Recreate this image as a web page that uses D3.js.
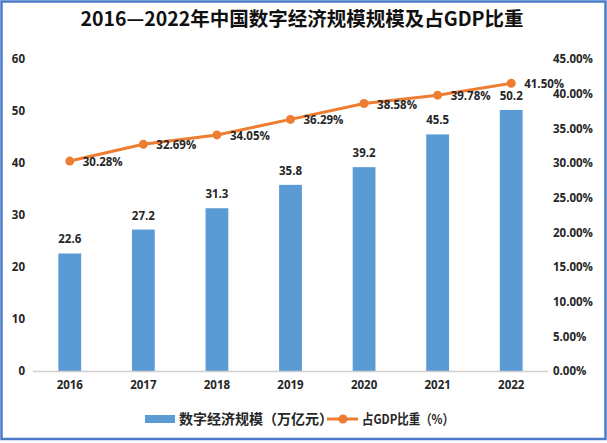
<!DOCTYPE html>
<html><head><meta charset="utf-8">
<script src="https://cdn.jsdelivr.net/npm/d3@7"></script>
<style>
body{margin:0;background:#fff;}
svg{display:block;font-family:"Noto Sans CJK SC","Open Sans",sans-serif;}
</style></head>
<body>
<svg id="chart" width="607" height="443"></svg>
<script>
const years = ["2016","2017","2018","2019","2020","2021","2022"];
const scale = [22.6, 27.2, 31.3, 35.8, 39.2, 45.5, 50.2];
const share = [30.28, 32.69, 34.05, 36.29, 38.58, 39.78, 41.50];
const leftTicks = [0,10,20,30,40,50,60];
const rightTicks = [0,5,10,15,20,25,30,35,40,45];
const title = "2016—2022年中国数字经济规模规模及占GDP比重";
const legendLabels = ["数字经济规模（万亿元）","占GDP比重（%）"];

const svg = d3.select("#chart");
const W = 607, H = 443;
const barColor = "#5B9BD5", lineColor = "#ED7D31", textColor = "#262626";

svg.append("rect").attr("x",1.5).attr("y",1.5).attr("width",W-3).attr("height",437.5)
  .attr("fill","#fff").attr("stroke","#4A7BC8").attr("stroke-width",2.5);

svg.append("text").attr("x",302).attr("y",26).attr("text-anchor","middle")
  .attr("font-size",19.5).attr("font-weight","bold").attr("fill","#111").text(title);

const x = d3.scaleBand().domain(years).range([33,548]).paddingInner(0.69).paddingOuter(0.345);
const yL = d3.scaleLinear().domain([0,60]).range([371,59]);
const yR = d3.scaleLinear().domain([0,45]).range([371,59]);

// left axis
const axL = svg.append("g").attr("transform","translate(29,0)")
  .call(d3.axisLeft(yL).tickValues(leftTicks).tickSize(0).tickPadding(4));
axL.select(".domain").remove();
axL.selectAll("text").attr("font-size",11.5).attr("font-weight","bold").attr("fill",textColor)
  .attr("font-family","'Open Sans',sans-serif");

// right axis
const axR = svg.append("g").attr("transform","translate(549,0)")
  .call(d3.axisRight(yR).tickValues(rightTicks).tickSize(0).tickPadding(4).tickFormat(d=>d.toFixed(2)+"%"));
axR.select(".domain").remove();
axR.selectAll("text").attr("font-size",11.5).attr("font-weight","bold").attr("fill",textColor)
  .attr("font-family","'Open Sans',sans-serif");

// bars
svg.append("g").selectAll("rect").data(years).join("rect")
  .attr("x",d=>x(d)).attr("width",x.bandwidth())
  .attr("y",(d,i)=>yL(scale[i])).attr("height",(d,i)=>yL(0)-yL(scale[i]))
  .attr("fill",barColor);

// baseline
svg.append("line").attr("x1",33).attr("x2",548).attr("y1",yL(0)+0.5).attr("y2",yL(0)+0.5)
  .attr("stroke","#d0d0d0").attr("stroke-width",1.5);

// x axis
const axX = svg.append("g").attr("transform","translate(0,"+(yL(0)+6)+")")
  .call(d3.axisBottom(x).tickSize(0).tickPadding(4));
axX.select(".domain").remove();
axX.selectAll("text").attr("font-size",11.5).attr("font-weight","bold").attr("fill",textColor)
  .attr("font-family","'Open Sans',sans-serif");

// bar labels
svg.append("g").selectAll("text").data(years).join("text")
  .attr("x",d=>x(d)+x.bandwidth()/2).attr("y",(d,i)=>yL(scale[i])-10)
  .attr("text-anchor","middle").attr("font-size",11.5).attr("font-weight","bold")
  .attr("font-family","'Open Sans',sans-serif").attr("fill",textColor)
  .text((d,i)=>scale[i].toFixed(1));

// line
const cx = d=>x(d)+x.bandwidth()/2;
const line = d3.line().x((d,i)=>cx(years[i])).y(d=>yR(d));
svg.append("path").datum(share).attr("d",line).attr("fill","none")
  .attr("stroke",lineColor).attr("stroke-width",3);
svg.append("g").selectAll("circle").data(share).join("circle")
  .attr("cx",(d,i)=>cx(years[i])).attr("cy",d=>yR(d)).attr("r",4.5).attr("fill",lineColor);
svg.append("g").selectAll("text").data(share).join("text")
  .attr("x",(d,i)=>cx(years[i])+13).attr("y",d=>yR(d)+5)
  .attr("font-size",11.5).attr("font-weight","bold")
  .attr("font-family","'Open Sans',sans-serif").attr("fill",textColor)
  .text(d=>d.toFixed(2)+"%");

// legend
const lg = svg.append("g");
lg.append("rect").attr("x",145).attr("y",415).attr("width",30).attr("height",8).attr("fill",barColor);
lg.append("text").attr("x",179).attr("y",424).attr("font-size",14).attr("font-weight","bold")
  .attr("fill",textColor).text(legendLabels[0]);
lg.append("line").attr("x1",327).attr("x2",358).attr("y1",419).attr("y2",419)
  .attr("stroke",lineColor).attr("stroke-width",3);
lg.append("circle").attr("cx",343).attr("cy",419).attr("r",4.5).attr("fill",lineColor);
lg.append("text").attr("x",362).attr("y",424).attr("font-size",13.5).attr("font-weight","bold")
  .attr("textLength",92).attr("lengthAdjust","spacingAndGlyphs")
  .attr("fill",textColor).text(legendLabels[1]);
</script>
</body></html>
